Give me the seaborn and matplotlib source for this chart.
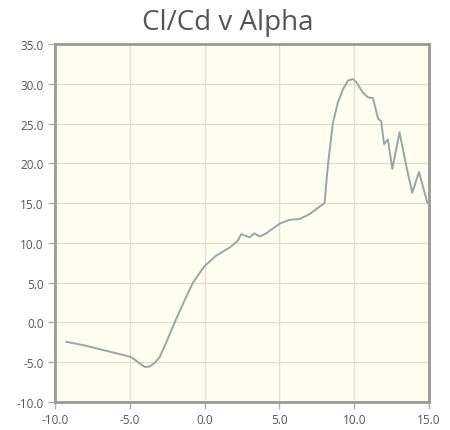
import matplotlib
matplotlib.use("Agg")
import matplotlib.pyplot as plt
import seaborn as sns
import pandas as pd

# Lift-to-drag ratio against angle of attack
alpha = [-9.25, -8.0, -6.5, -5.0, -4.79, -4.3, -4.0, -3.68, -3.34, -3.0,
         -2.56, -2.0, -1.45, -0.78, 0.0, 0.78, 1.67, 2.23, 2.45, 3.0,
         3.34, 3.68, 4.12, 4.79, 5.0, 5.68, 6.35, 7.0, 8.02, 8.24,
         8.58, 8.91, 9.25, 9.58, 9.91, 10.14, 10.58, 10.92, 11.25, 11.6,
         11.8, 12.0, 12.25, 12.55, 13.03, 13.48, 13.88, 14.33, 14.9]
cl_cd = [-2.43, -2.9, -3.6, -4.3, -4.5, -5.2, -5.6, -5.55, -5.1, -4.35,
         -2.5, 0.0, 2.3, 5.0, 7.1, 8.4, 9.4, 10.3, 11.1, 10.7,
         11.2, 10.8, 11.2, 12.1, 12.4, 12.9, 13.0, 13.6, 15.0, 19.7,
         25.1, 27.65, 29.3, 30.4, 30.6, 30.2, 28.9, 28.3, 28.2, 25.6,
         25.3, 22.4, 23.0, 19.3, 23.9, 19.7, 16.3, 18.9, 15.0]

x_ticks = [-10.0, -5.0, 0.0, 5.0, 10.0, 15.0]
y_ticks = [-10.0, -5.0, 0.0, 5.0, 10.0, 15.0, 20.0, 25.0, 30.0, 35.0]

df = pd.DataFrame({"alpha": alpha, "cl_cd": cl_cd})

sns.set_theme(style="white")
plt.rcParams["font.family"] = ["Open Sans", "DejaVu Sans"]

fig = plt.figure(figsize=(4.5, 4.31), dpi=100)
ax = fig.add_axes([0.1222, 0.065, 0.8311, 0.8306])
ax.set_facecolor("#fffdf2")

sns.lineplot(data=df, x="alpha", y="cl_cd", sort=False, ax=ax,
             color="#94a9a6", linewidth=1.4, zorder=3)

ax.set_xlim(-10, 15)
ax.set_ylim(-10, 35)
ax.set_xticks(x_ticks)
ax.set_yticks(y_ticks)
ax.set_xticklabels([f"{v:.1f}" for v in x_ticks])
ax.set_yticklabels([f"{v:.1f}" for v in y_ticks])
ax.grid(True, color="#e2dfd3", linewidth=1.0, zorder=0)
ax.set_axisbelow(True)

for side in ["left", "bottom", "right", "top"]:
    ax.spines[side].set_color("#9a9a94")
    ax.spines[side].set_linewidth(2.0)

ax.tick_params(axis="both", which="major", direction="out", length=5,
               width=1.0, color="#b0b0a8", labelsize=8.5, labelcolor="#555555",
               pad=3, bottom=True, left=True)

ax.set_xlabel("")
ax.set_ylabel("")
fig.suptitle("Cl/Cd v Alpha", x=0.505, y=0.978, fontsize=20,
             color="#555555", va="top")

fig.savefig("out.png", dpi=100, facecolor="white")
